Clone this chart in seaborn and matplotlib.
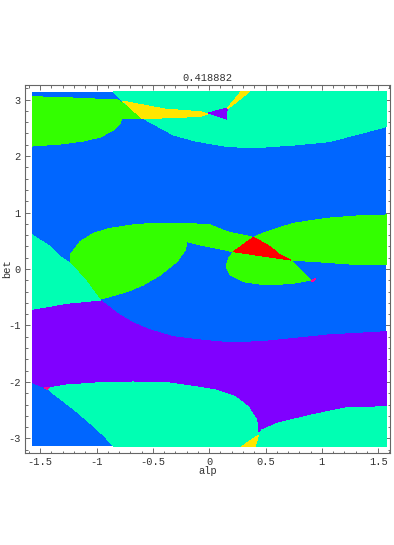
import matplotlib
matplotlib.use("Agg")
import matplotlib.pyplot as plt
import numpy as np
import seaborn as sns
from matplotlib.ticker import MultipleLocator

title = "0.418882"
x_label = "alp"
y_label = "bet"
alp_range = [-np.pi / 2, np.pi / 2]
bet_range = [-np.pi, np.pi]
x_ticks = [-1.5, -1, -0.5, 0, 0.5, 1, 1.5]
x_tick_labels = ["-1.5", "-1", "-0.5", "0", "0.5", "1", "1.5"]
y_ticks = [-3, -2, -1, 0, 1, 2, 3]
y_tick_labels = ["-3", "-2", "-1", "0", "1", "2", "3"]

# region outlines, as (alp, bet) points
purple_alp = [-1.571, -1.263, -0.967, -0.819, -0.674, -0.524, -0.319, -0.080, 0.169, 0.468, 0.763, 1.056, 1.571,
              1.571, 1.207, 0.911, 0.612, 0.468, 0.437, 0.430, 0.423, 0.346, 0.231, 0.053, -0.124, -0.375, -0.674,
              -0.967, -1.263, -1.440, -1.571]
purple_bet = [-0.713, -0.607, -0.549, -0.784, -0.956, -1.080, -1.198, -1.257, -1.304, -1.287, -1.227, -1.168, -1.110,
              -2.437, -2.460, -2.584, -2.726, -2.850, -2.940, -2.850, -2.673, -2.437, -2.260, -2.142, -2.083, -2.012,
              -2.000, -2.012, -2.053, -2.112, -2.012]

cyan_low_left_alp = [-1.440, -1.263, -0.967, -0.674, -0.375, -0.124, 0.053, 0.231, 0.346, 0.423, 0.430, 0.437,
                     0.290, -0.849, -0.930, -1.050, -1.180, -1.300, -1.380]
cyan_low_left_bet = [-2.112, -2.053, -2.012, -2.000, -2.012, -2.083, -2.142, -2.260, -2.437, -2.673, -2.850, -2.940,
                     -3.1416, -3.1416, -2.960, -2.740, -2.520, -2.330, -2.210]

cyan_low_right_alp = [0.437, 0.468, 0.612, 0.911, 1.207, 1.571, 1.571, 0.408]
cyan_low_right_bet = [-2.940, -2.850, -2.726, -2.584, -2.460, -2.437, -3.1416, -3.1416]

yellow_low_alp = [0.290, 0.437, 0.408]
yellow_low_bet = [-3.1416, -2.940, -3.1416]

green_mid_left_alp = [-1.234, -1.145, -1.027, -0.878, -0.642, -0.435, -0.198, 0.009, 0.157, 0.393, 0.216, -0.080,
                      -0.198, -0.213, -0.287, -0.435, -0.586, -0.730, -0.938, -0.996, -1.085, -1.171, -1.234]
green_mid_left_bet = [0.248, 0.483, 0.632, 0.720, 0.791, 0.809, 0.809, 0.779, 0.660, 0.561, 0.306, 0.425,
                      0.483, 0.336, 0.129, -0.106, -0.283, -0.402, -0.519, -0.549, -0.253, -0.048, 0.101]

cyan_mid_alp = [-1.571, -1.411, -1.322, -1.234, -1.100, -0.967, -1.263, -1.571]
cyan_mid_bet = [0.602, 0.395, 0.218, 0.100, -0.195, -0.549, -0.607, -0.713]

green_mid_right_alp = [0.393, 0.512, 0.748, 1.044, 1.340, 1.571, 1.571, 1.251, 0.956, 0.719, 0.807, 0.896,
                       0.748, 0.512, 0.304, 0.186, 0.151, 0.171, 0.216]
green_mid_right_bet = [0.561, 0.660, 0.809, 0.897, 0.943, 0.956, 0.071, 0.088, 0.129, 0.159, -0.018, -0.195,
                       -0.253, -0.283, -0.225, -0.106, 0.041, 0.189, 0.306]

red_alp = [0.393, 0.541, 0.630, 0.719, 0.216]
red_bet = [0.561, 0.395, 0.248, 0.159, 0.306]

magenta_mid_alp = [0.905, 0.945, 0.925]
magenta_mid_bet = [-0.205, -0.165, -0.228]
magenta_low_alp = [-1.465, -1.420, -1.440]
magenta_low_bet = [-2.095, -2.095, -2.135]

cyan_top_alp = [-0.852, -0.772, -0.594, -0.317, -0.124, 0.171, 0.408, 0.763, 1.059, 1.295, 1.571, 1.571]
cyan_top_bet = [3.1416, 2.973, 2.673, 2.372, 2.265, 2.165, 2.147, 2.195, 2.253, 2.372, 2.519, 3.1416]

green_top_alp = [-1.571, -1.263, -0.967, -0.808, -0.594, -0.775, -0.790, -0.852, -0.967, -1.118, -1.322, -1.571]
green_top_bet = [3.050, 3.032, 3.004, 2.991, 2.673, 2.667, 2.584, 2.460, 2.336, 2.265, 2.212, 2.177]

yellow_top_alp = [-0.772, -0.390, -0.080, -0.018, -0.080, -0.328, -0.594, -0.745]
yellow_top_bet = [2.973, 2.830, 2.784, 2.743, 2.700, 2.680, 2.660, 2.938]

purple_top_alp = [-0.009, 0.160, 0.151]
purple_top_bet = [2.761, 2.850, 2.655]

yellow_streak_alp = [0.160, 0.284, 0.357, 0.180]
yellow_streak_bet = [2.840, 3.1416, 3.1416, 2.860]

BLUE = "#0066FF"
PURPLE = "#8000FF"
CYAN = "#00FFB3"
GREEN = "#33FF00"
YELLOW = "#FFE600"
RED = "#FF0000"
MAGENTA = "#FF0099"

layers = [
    (purple_alp, purple_bet, PURPLE),
    (cyan_low_left_alp, cyan_low_left_bet, CYAN),
    (cyan_low_right_alp, cyan_low_right_bet, CYAN),
    (yellow_low_alp, yellow_low_bet, YELLOW),
    (green_mid_left_alp, green_mid_left_bet, GREEN),
    (cyan_mid_alp, cyan_mid_bet, CYAN),
    (green_mid_right_alp, green_mid_right_bet, GREEN),
    (red_alp, red_bet, RED),
    (magenta_mid_alp, magenta_mid_bet, MAGENTA),
    (magenta_low_alp, magenta_low_bet, MAGENTA),
    (cyan_top_alp, cyan_top_bet, CYAN),
    (green_top_alp, green_top_bet, GREEN),
    (yellow_top_alp, yellow_top_bet, YELLOW),
    (purple_top_alp, purple_top_bet, PURPLE),
    (yellow_streak_alp, yellow_streak_bet, YELLOW),
]

sns.set_theme(style="white")
plt.rcParams["font.family"] = ["Liberation Mono", "DejaVu Sans Mono"]

fig = plt.figure(figsize=(3.94, 5.45), dpi=100)
ax = fig.add_axes([25 / 394, 92 / 545, 365 / 394, 368 / 545])

# background region covers the whole domain
ax.fill([alp_range[0], alp_range[1], alp_range[1], alp_range[0]],
        [bet_range[0], bet_range[0], bet_range[1], bet_range[1]],
        color=BLUE, lw=0, antialiased=False)
for xs, ys, c in layers:
    ax.fill(xs, ys, color=c, lw=0, antialiased=False)

ax.set_xlim(-1.635, 1.605)
ax.set_ylim(-3.257, 3.257)
ax.set_xticks(x_ticks)
ax.set_xticklabels(x_tick_labels)
ax.set_yticks(y_ticks)
ax.set_yticklabels(y_tick_labels)
ax.xaxis.set_minor_locator(MultipleLocator(0.1))
ax.yaxis.set_minor_locator(MultipleLocator(0.2))
ax.tick_params(which="both", direction="in", top=True, right=True, bottom=True, left=True,
               color="#555555", width=0.6, labelsize=7.5, labelcolor="#333333")
ax.tick_params(which="major", length=3.5, pad=3)
ax.tick_params(which="minor", length=1.8)
for s in ax.spines.values():
    s.set_color("#666666")
    s.set_linewidth(0.8)

ax.set_title(title, fontsize=7.5, color="#333333", pad=3)
ax.set_xlabel(x_label, fontsize=7.5, color="#333333", labelpad=-1)
ax.set_ylabel(y_label, fontsize=7.5, color="#333333")
ax.yaxis.set_label_coords(-0.036, 0.5)

fig.savefig("out.png", dpi=100)
